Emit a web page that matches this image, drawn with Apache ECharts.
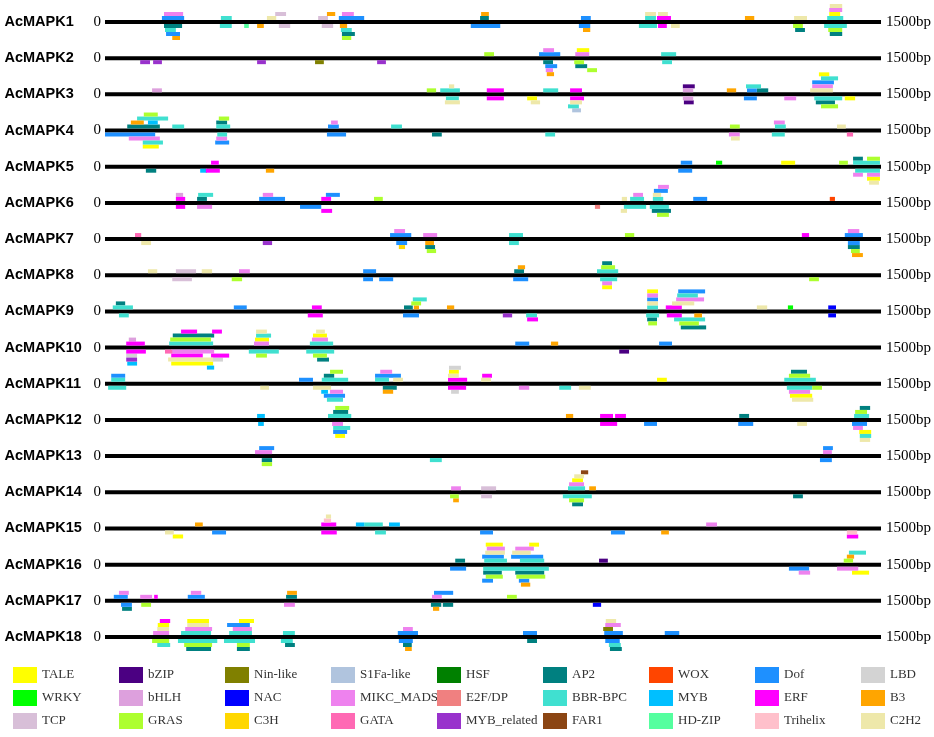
<!DOCTYPE html>
<html><head><meta charset="utf-8">
<script src="https://cdn.jsdelivr.net/npm/echarts@6/dist/echarts.min.js"></script>
<style>html,body{margin:0;padding:0;background:#fff}#main{width:934px;height:737px}</style>
</head><body><div id="main"></div>
<script>
const genes = ['AcMAPK1','AcMAPK2','AcMAPK3','AcMAPK4','AcMAPK5','AcMAPK6','AcMAPK7','AcMAPK8','AcMAPK9','AcMAPK10','AcMAPK11','AcMAPK12','AcMAPK13','AcMAPK14','AcMAPK15','AcMAPK16','AcMAPK17','AcMAPK18'];
const seqLength = 1500;
const startLabel = '0';
const endLabel = '1500bp';
// legend order (row-major, 9 columns x 3 rows)
const typeNames = ['TALE','bZIP','Nin-like','S1Fa-like','HSF','AP2','WOX','Dof','LBD',
  'WRKY','bHLH','NAC','MIKC_MADS','E2F/DP','BBR-BPC','MYB','ERF','B3',
  'TCP','GRAS','C3H','GATA','MYB_related','FAR1','HD-ZIP','Trihelix','C2H2'];
const typeColors = ['#FFFF00','#4B0082','#808000','#B0C4DE','#008000','#008080','#FF4500','#1E90FF','#D3D3D3',
  '#00FF00','#DDA0DD','#0000FF','#EE82EE','#F08080','#40E0D0','#00BFFF','#FF00FF','#FFA500',
  '#D8BFD8','#ADFF2F','#FFD700','#FF69B4','#9932CC','#8B4513','#54FF9F','#FFC0CB','#EEE8AA'];

// elements: [start bp, end bp, track (+ above / - below line), family]
const AcMAPK1 = [
[114,151,2,'MIKC_MADS'],[110,153,1,'Dof'],[114,149,-1,'AP2'],[116,137,-2,'BBR-BPC'],[118,145,-3,'Dof'],[130,145,-4,'B3'],
[224,245,1,'BBR-BPC'],[222,245,-1,'BBR-BPC'],[269,278,-1,'HD-ZIP'],[294,307,-1,'B3'],[313,331,1,'C2H2'],[329,350,2,'TCP'],[336,358,-1,'TCP'],
[412,431,1,'TCP'],[419,441,-1,'TCP'],[429,445,2,'B3'],[458,481,2,'MIKC_MADS'],[452,501,1,'Dof'],[454,468,-1,'B3'],[456,477,-2,'BBR-BPC'],[458,483,-3,'AP2'],[458,476,-4,'GRAS'],
[727,742,2,'B3'],[725,742,1,'AP2'],[707,764,-1,'Dof'],[920,939,1,'Dof'],[916,938,-1,'Dof'],[924,938,-2,'B3'],
[1044,1065,2,'C2H2'],[1044,1065,1,'BBR-BPC'],[1032,1067,-1,'BBR-BPC'],[1069,1088,2,'C2H2'],[1067,1094,1,'ERF'],[1069,1086,-1,'ERF'],[1094,1111,-1,'C2H2'],
[1237,1255,1,'B3'],[1332,1357,1,'C2H2'],[1330,1349,-1,'GRAS'],[1334,1353,-2,'AP2'],
[1401,1425,4,'C2H2'],[1400,1425,3,'MIKC_MADS'],[1400,1421,2,'TALE'],[1396,1427,1,'BBR-BPC'],[1390,1434,-1,'BBR-BPC'],[1398,1425,-2,'GRAS'],[1401,1425,-3,'AP2']
];
const AcMAPK2 = [
[68,87,-1,'MYB_related'],[93,110,-1,'MYB_related'],[294,311,-1,'MYB_related'],[406,423,-1,'Nin-like'],[526,543,-1,'MYB_related'],
[733,752,1,'GRAS'],[847,868,2,'MIKC_MADS'],[839,880,1,'Dof'],[847,866,-1,'AP2'],[851,874,-2,'Dof'],[852,866,-3,'MIKC_MADS'],[854,868,-4,'B3'],
[912,936,2,'TALE'],[909,936,1,'MIKC_MADS'],[907,926,-1,'GRAS'],[909,932,-2,'AP2'],[932,951,-3,'GRAS'],
[1075,1104,1,'BBR-BPC'],[1077,1096,-1,'BBR-BPC']
];
const AcMAPK3 = [
[91,110,1,'bHLH'],[622,640,1,'GRAS'],[665,675,2,'C2H2'],[648,686,1,'BBR-BPC'],[659,684,-1,'BBR-BPC'],[657,686,-2,'C2H2'],
[738,771,1,'ERF'],[738,771,-1,'ERF'],[816,835,-1,'TALE'],[823,841,-2,'C2H2'],[847,876,1,'BBR-BPC'],
[899,922,1,'ERF'],[899,926,-1,'ERF'],[899,922,-2,'C2H2'],[895,916,-3,'BBR-BPC'],[903,920,-4,'S1Fa-like'],
[1117,1140,2,'bZIP'],[1117,1137,1,'bHLH'],[1117,1137,-1,'bHLH'],[1119,1138,-2,'bZIP'],
[1202,1220,1,'B3'],[1239,1268,2,'BBR-BPC'],[1241,1260,1,'Dof'],[1260,1282,1,'AP2'],[1235,1260,-1,'Dof'],[1313,1336,-1,'MIKC_MADS'],
[1380,1400,5,'TALE'],[1384,1417,4,'BBR-BPC'],[1367,1409,3,'Dof'],[1367,1407,2,'MIKC_MADS'],[1363,1407,1,'C2H2'],
[1371,1425,-1,'BBR-BPC'],[1374,1411,-2,'AP2'],[1384,1417,-3,'GRAS'],[1430,1450,-1,'TALE']
];
const AcMAPK4 = [
[75,102,4,'GRAS'],[62,122,3,'BBR-BPC'],[50,75,2,'B3'],[83,102,2,'MYB'],[43,106,1,'AP2'],[130,153,1,'BBR-BPC'],
[0,97,-1,'Dof'],[46,106,-2,'MIKC_MADS'],[73,112,-3,'BBR-BPC'],[73,104,-4,'TALE'],
[220,240,3,'GRAS'],[215,236,2,'AP2'],[215,242,1,'BBR-BPC'],[217,236,-1,'BBR-BPC'],[215,236,-2,'MIKC_MADS'],[213,240,-3,'Dof'],
[437,450,2,'MIKC_MADS'],[431,452,1,'Dof'],[429,466,-1,'Dof'],[553,574,1,'BBR-BPC'],[632,651,-1,'AP2'],[851,870,-1,'BBR-BPC'],
[1208,1227,1,'GRAS'],[1206,1227,-1,'MIKC_MADS'],[1210,1227,-2,'C2H2'],
[1293,1314,2,'MIKC_MADS'],[1295,1316,1,'BBR-BPC'],[1289,1314,-1,'BBR-BPC'],[1415,1432,1,'C2H2'],[1434,1446,-1,'GATA']
];
const AcMAPK5 = [
[79,99,-1,'AP2'],[184,197,-1,'MYB'],[195,222,-1,'ERF'],[205,220,1,'ERF'],[311,327,-1,'B3'],
[1113,1135,1,'Dof'],[1108,1135,-1,'Dof'],[1181,1193,1,'WRKY'],[1307,1334,1,'TALE'],[1419,1436,1,'GRAS'],
[1446,1465,2,'AP2'],[1473,1498,2,'GRAS'],[1446,1498,1,'BBR-BPC'],[1450,1498,-1,'BBR-BPC'],
[1446,1465,-2,'MIKC_MADS'],[1473,1498,-2,'MIKC_MADS'],[1473,1498,-3,'TALE'],[1477,1496,-4,'C2H2']
];
const AcMAPK6 = [
[137,151,2,'bHLH'],[137,155,1,'ERF'],[137,155,-1,'ERF'],[180,209,2,'BBR-BPC'],[178,197,1,'AP2'],[178,207,-1,'MIKC_MADS'],
[305,325,2,'MIKC_MADS'],[298,348,1,'Dof'],[377,418,-1,'Dof'],[418,437,1,'ERF'],[427,454,2,'Dof'],[418,439,-2,'ERF'],[520,537,1,'GRAS'],
[947,957,-1,'E2F/DP'],[999,1009,1,'C2H2'],[997,1009,-2,'C2H2'],[1021,1040,2,'MIKC_MADS'],[1015,1042,1,'BBR-BPC'],[1003,1046,-1,'BBR-BPC'],
[1069,1090,4,'MIKC_MADS'],[1061,1088,3,'Dof'],[1059,1075,2,'C2H2'],[1059,1079,1,'BBR-BPC'],[1053,1090,-1,'BBR-BPC'],[1057,1094,-2,'AP2'],[1067,1090,-3,'GRAS'],
[1137,1164,1,'Dof'],[1401,1411,1,'WOX']
];
const AcMAPK7 = [
[58,70,1,'GATA'],[70,89,-1,'C2H2'],[305,323,-1,'MYB_related'],
[559,580,2,'MIKC_MADS'],[551,592,1,'Dof'],[563,584,-1,'Dof'],[568,580,-2,'C3H'],
[615,642,1,'MIKC_MADS'],[619,636,-1,'B3'],[619,638,-2,'AP2'],[622,640,-3,'GRAS'],
[781,808,1,'BBR-BPC'],[781,800,-1,'BBR-BPC'],[1005,1023,1,'GRAS'],[1347,1361,1,'ERF'],
[1436,1458,2,'MIKC_MADS'],[1430,1465,1,'Dof'],[1436,1459,-1,'Dof'],[1436,1459,-2,'AP2'],[1442,1459,-3,'GRAS'],[1444,1465,-4,'B3']
];
const AcMAPK8 = [
[83,101,1,'C2H2'],[137,176,1,'TCP'],[130,168,-1,'TCP'],[187,207,1,'C2H2'],[259,280,1,'MIKC_MADS'],[245,265,-1,'GRAS'],
[499,524,1,'Dof'],[499,518,-1,'Dof'],[530,557,-1,'Dof'],
[798,812,2,'B3'],[791,810,1,'AP2'],[789,818,-1,'Dof'],
[961,980,3,'AP2'],[959,986,2,'GRAS'],[951,992,1,'BBR-BPC'],[957,990,-1,'BBR-BPC'],[961,980,-2,'MIKC_MADS'],[961,980,-3,'TALE'],
[1361,1380,-1,'GRAS']
];
const AcMAPK9 = [
[21,39,2,'AP2'],[15,54,1,'BBR-BPC'],[27,46,-1,'BBR-BPC'],[249,274,1,'Dof'],[400,419,1,'ERF'],[392,421,-1,'ERF'],
[595,622,3,'BBR-BPC'],[592,611,2,'GRAS'],[578,595,1,'AP2'],[597,607,1,'B3'],[576,607,-1,'Dof'],[661,675,1,'B3'],
[769,787,-1,'MYB_related'],[814,835,-1,'BBR-BPC'],[816,837,-2,'ERF'],
[1048,1069,5,'TALE'],[1048,1069,4,'MIKC_MADS'],[1048,1069,3,'Dof'],[1048,1069,2,'C2H2'],[1048,1069,1,'BBR-BPC'],
[1046,1071,-1,'BBR-BPC'],[1048,1067,-2,'AP2'],[1050,1067,-3,'GRAS'],
[1108,1160,5,'Dof'],[1106,1146,4,'BBR-BPC'],[1104,1158,3,'MIKC_MADS'],[1096,1139,2,'C2H2'],[1084,1115,1,'ERF'],
[1086,1115,-1,'ERF'],[1139,1154,-1,'B3'],[1100,1160,-2,'BBR-BPC'],[1110,1148,-3,'GRAS'],[1113,1162,-4,'AP2'],
[1260,1280,1,'C2H2'],[1320,1330,1,'WRKY'],[1398,1413,1,'NAC'],[1398,1413,-1,'NAC']
];
const AcMAPK10 = [
[46,60,2,'bHLH'],[41,77,1,'ERF'],[41,79,-1,'ERF'],[41,62,-2,'LBD'],[41,62,-3,'MYB_related'],[43,62,-4,'MYB'],
[147,178,4,'ERF'],[207,226,4,'ERF'],[131,211,3,'AP2'],[126,205,2,'GRAS'],[124,209,1,'BBR-BPC'],
[116,130,-1,'GATA'],[128,211,-1,'MIKC_MADS'],[128,189,-2,'ERF'],[205,240,-2,'ERF'],[122,209,-3,'C2H2'],[207,228,-3,'LBD'],[128,209,-4,'TALE'],[197,211,-5,'MYB'],
[292,313,4,'C2H2'],[292,321,3,'BBR-BPC'],[290,317,2,'TALE'],[288,317,1,'MIKC_MADS'],[278,336,-1,'BBR-BPC'],[292,313,-2,'GRAS'],
[408,425,4,'C2H2'],[402,429,3,'TALE'],[400,431,2,'MIKC_MADS'],[396,441,1,'BBR-BPC'],[389,443,-1,'BBR-BPC'],[402,429,-2,'GRAS'],[410,433,-3,'AP2'],
[793,820,1,'Dof'],[862,876,1,'B3'],[994,1013,-1,'bZIP'],[1071,1096,1,'Dof']
];
const AcMAPK11 = [
[12,39,2,'Dof'],[12,39,1,'BBR-BPC'],[6,41,-1,'BBR-BPC'],[300,317,-1,'C2H2'],[375,402,1,'Dof'],
[435,460,3,'GRAS'],[423,443,2,'AP2'],[419,470,1,'BBR-BPC'],[402,437,-1,'C2H2'],[418,431,-2,'MYB'],[435,460,-2,'MIKC_MADS'],[423,464,-3,'Dof'],[429,460,-4,'BBR-BPC'],
[532,555,3,'MIKC_MADS'],[522,572,2,'Dof'],[522,549,1,'BBR-BPC'],[557,576,1,'C2H2'],[537,564,-1,'AP2'],[537,557,-2,'B3'],
[665,688,4,'LBD'],[665,684,3,'TALE'],[663,684,2,'C2H2'],[663,700,1,'ERF'],[663,698,-1,'ERF'],[669,684,-2,'LBD'],
[729,748,2,'ERF'],[727,746,1,'C2H2'],[800,820,-1,'MIKC_MADS'],[878,901,-1,'BBR-BPC'],[916,939,-1,'C2H2'],[1067,1086,1,'TALE'],
[1326,1357,3,'AP2'],[1322,1363,2,'GRAS'],[1313,1374,1,'BBR-BPC'],[1318,1367,-1,'BBR-BPC'],[1367,1386,-1,'GRAS'],
[1322,1363,-2,'MIKC_MADS'],[1324,1367,-3,'TALE'],[1328,1369,-4,'C2H2']
];
const AcMAPK12 = [
[294,309,1,'MYB'],[296,307,-1,'MYB'],
[445,472,3,'GRAS'],[441,470,2,'AP2'],[431,476,1,'BBR-BPC'],[439,460,-1,'MIKC_MADS'],[441,474,-2,'BBR-BPC'],[441,468,-3,'Dof'],[445,464,-4,'TALE'],
[891,905,1,'B3'],[957,982,1,'ERF'],[986,1007,1,'ERF'],[957,990,-1,'ERF'],[1042,1067,-1,'Dof'],
[1226,1245,1,'AP2'],[1224,1253,-1,'Dof'],[1338,1357,-1,'C2H2'],
[1459,1479,3,'AP2'],[1450,1473,2,'GRAS'],[1448,1477,1,'BBR-BPC'],[1444,1473,-1,'Dof'],[1446,1465,-2,'MIKC_MADS'],[1458,1481,-3,'TALE'],[1459,1481,-4,'BBR-BPC'],[1459,1479,-5,'C2H2']
];
const AcMAPK13 = [
[298,327,2,'Dof'],[290,323,1,'MIKC_MADS'],[303,323,-1,'AP2'],[303,323,-2,'GRAS'],[628,651,-1,'BBR-BPC'],
[1388,1407,2,'Dof'],[1388,1405,1,'MIKC_MADS'],[1382,1405,-1,'Dof']
];
const AcMAPK14 = [
[669,688,1,'MIKC_MADS'],[667,684,-1,'GRAS'],[673,684,-2,'B3'],[727,756,1,'TCP'],[727,748,-1,'TCP'],
[920,934,5,'FAR1'],[907,926,4,'C2H2'],[903,924,3,'TALE'],[897,926,2,'MIKC_MADS'],[895,928,1,'BBR-BPC'],[936,949,1,'B3'],
[885,941,-1,'BBR-BPC'],[897,926,-2,'GRAS'],[903,924,-3,'AP2'],[1330,1349,-1,'AP2']
];
const AcMAPK15 = [
[116,133,-1,'C2H2'],[131,151,-2,'TALE'],[174,189,1,'B3'],[207,234,-1,'Dof'],
[427,437,3,'C2H2'],[423,437,2,'Trihelix'],[418,447,1,'ERF'],[418,448,-1,'ERF'],
[485,501,1,'MYB'],[501,537,1,'BBR-BPC'],[549,570,1,'MYB'],[522,543,-1,'BBR-BPC'],
[725,750,-1,'Dof'],[978,1005,-1,'Dof'],[1075,1090,-1,'B3'],[1162,1183,1,'MIKC_MADS'],[1434,1454,-1,'Trihelix'],[1434,1456,-2,'ERF']
];
const AcMAPK16 = [
[677,696,1,'AP2'],[667,698,-1,'Dof'],
[736,769,5,'TALE'],[738,773,4,'MIKC_MADS'],[735,773,3,'C2H2'],[729,771,2,'Dof'],[733,777,1,'BBR-BPC'],
[731,858,-1,'BBR-BPC'],[731,767,-2,'AP2'],[736,769,-3,'GRAS'],[729,750,-4,'Dof'],
[820,839,5,'TALE'],[793,829,4,'MIKC_MADS'],[787,823,3,'C2H2'],[785,847,2,'Dof'],[802,849,1,'BBR-BPC'],
[793,849,-2,'AP2'],[795,851,-3,'GRAS'],[800,820,-4,'Dof'],[804,822,-5,'B3'],
[955,972,1,'bZIP'],[1322,1361,-1,'Dof'],[1341,1363,-2,'MIKC_MADS'],
[1438,1471,3,'BBR-BPC'],[1434,1448,2,'B3'],[1428,1446,1,'GRAS'],[1415,1456,-1,'MIKC_MADS'],[1444,1477,-2,'TALE']
];
const AcMAPK17 = [
[27,46,2,'MIKC_MADS'],[17,44,1,'Dof'],[31,52,-1,'Dof'],[33,52,-2,'AP2'],
[68,91,1,'MIKC_MADS'],[95,102,1,'ERF'],[70,89,-1,'GRAS'],[166,186,2,'MIKC_MADS'],[160,193,1,'Dof'],
[352,371,2,'B3'],[350,371,1,'AP2'],[346,367,-1,'MIKC_MADS'],
[636,673,2,'Dof'],[632,651,1,'MIKC_MADS'],[630,650,-1,'AP2'],[653,673,-1,'AP2'],[634,646,-2,'B3'],
[777,796,1,'GRAS'],[943,959,-1,'NAC']
];
const AcMAPK18 = [
[106,126,4,'ERF'],[102,124,3,'TALE'],[101,124,2,'C2H2'],[93,124,1,'MIKC_MADS'],[91,124,-1,'GRAS'],[101,126,-2,'BBR-BPC'],
[159,201,4,'TALE'],[159,201,3,'C2H2'],[155,207,2,'MIKC_MADS'],[147,205,1,'BBR-BPC'],[141,217,-1,'BBR-BPC'],[153,207,-2,'GRAS'],[157,205,-3,'AP2'],
[259,288,4,'TALE'],[236,280,3,'Dof'],[247,284,2,'MIKC_MADS'],[240,284,1,'BBR-BPC'],[230,290,-1,'BBR-BPC'],[255,280,-2,'GRAS'],[255,280,-3,'AP2'],
[344,367,1,'BBR-BPC'],[340,363,-1,'BBR-BPC'],[348,367,-2,'AP2'],
[576,595,2,'MIKC_MADS'],[566,605,1,'Dof'],[568,595,-1,'Dof'],[576,593,-2,'AP2'],[580,593,-3,'B3'],
[808,835,1,'Dof'],[816,835,-1,'AP2'],
[968,988,4,'C2H2'],[967,997,3,'MIKC_MADS'],[963,982,2,'Nin-like'],[965,1001,1,'Dof'],[967,995,-1,'Dof'],[974,997,-2,'BBR-BPC'],[976,999,-3,'AP2'],
[1082,1110,1,'Dof']
];
const geneElements = [AcMAPK1,AcMAPK2,AcMAPK3,AcMAPK4,AcMAPK5,AcMAPK6,AcMAPK7,AcMAPK8,AcMAPK9,AcMAPK10,AcMAPK11,AcMAPK12,AcMAPK13,AcMAPK14,AcMAPK15,AcMAPK16,AcMAPK17,AcMAPK18];

const BOX_H = 4, LINE_H = 4;
function renderBox(params, api) {
  const s = api.value(0), e = api.value(1), g = api.value(2), tr = api.value(3);
  const p0 = api.coord([s, g]), p1 = api.coord([e, g]);
  const y = tr > 0 ? p0[1] - LINE_H / 2 - BOX_H * tr : p0[1] + LINE_H / 2 + BOX_H * (-tr - 1);
  return { type: 'rect', shape: { x: p0[0], y: y, width: Math.max(p1[0] - p0[0], 1), height: BOX_H },
    style: { fill: api.visual('color') } };
}
function renderLine(params, api) {
  const p0 = api.coord([api.value(0), api.value(2)]), p1 = api.coord([api.value(1), api.value(2)]);
  return { type: 'rect', shape: { x: p0[0], y: p0[1] - LINE_H / 2, width: p1[0] - p0[0], height: LINE_H }, style: { fill: '#000' } };
}

const series = [{
  type: 'custom', name: 'promoter', silent: true, renderItem: renderLine,
  encode: { x: [0, 1], y: 2 }, data: genes.map((g, i) => [0, seqLength, i]), z: 1
}];
typeNames.forEach((t, k) => {
  const data = [];
  geneElements.forEach((els, gi) => els.forEach(el => { if (el[3] === t) data.push([el[0], el[1], gi, el[2]]); }));
  series.push({ type: 'custom', name: t, renderItem: renderBox, encode: { x: [0, 1], y: 2 },
    itemStyle: { color: typeColors[k] }, data: data, z: 2 });
});

const legends = [];
for (let c = 0; c < 9; c++) {
  legends.push({ orient: 'vertical', left: 13 + 106 * c, top: 667, height: 70, padding: 0,
    itemWidth: 24, itemHeight: 16, itemGap: 7,
    icon: 'rect', selectedMode: false, data: [typeNames[c], typeNames[9 + c], typeNames[18 + c]],
    textStyle: { fontFamily: 'Liberation Serif', fontSize: 13, color: '#333' } });
}

const chart = echarts.init(document.getElementById('main'));
chart.setOption({
  animation: false,
  backgroundColor: '#fff',
  grid: { left: 105, right: 53, top: 3.9, bottom: 81.9 },
  xAxis: { type: 'value', min: 0, max: seqLength, show: false },
  yAxis: [
    { type: 'category', data: genes, inverse: true, axisLine: { show: false }, axisTick: { show: false }, splitLine: { show: false },
      axisLabel: { margin: 4, formatter: v => '{g|' + v + '}{z|' + startLabel + '}',
        rich: { g: { fontFamily: 'Liberation Sans', fontWeight: 'bold', fontSize: 14.5, color: '#000', width: 89, align: 'left' },
                z: { fontFamily: 'Liberation Serif', fontSize: 15, color: '#000' } } } },
    { type: 'category', data: genes, inverse: true, position: 'right', axisLine: { show: false }, axisTick: { show: false },
      axisLabel: { margin: 5, formatter: () => endLabel, fontFamily: 'Liberation Serif', fontSize: 15, color: '#000' } }
  ],
  legend: legends,
  series: series
});
</script></body></html>
